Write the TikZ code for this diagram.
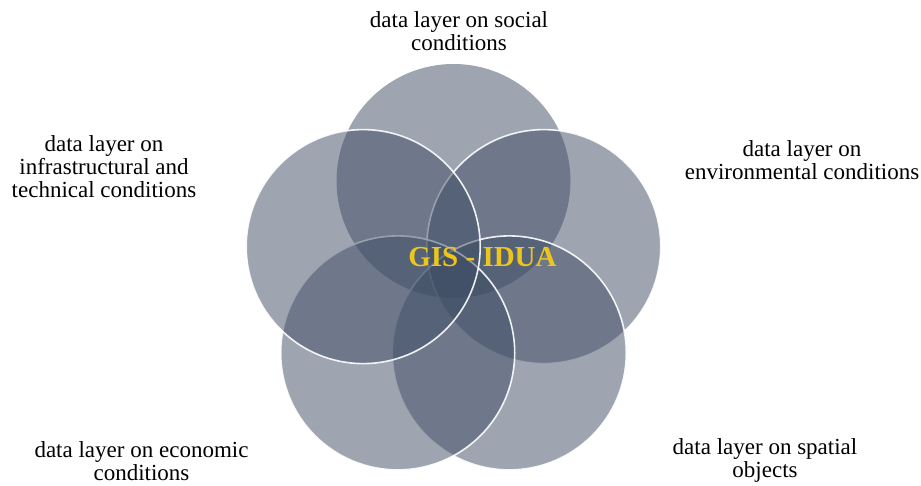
\documentclass[tikz,border=0pt]{standalone}
\usepackage{fontspec}
\setmainfont{Liberation Serif}
\definecolor{venngray}{RGB}{62,76,100}
\definecolor{gisgold}{RGB}{236,198,28}

\begin{document}
\begin{tikzpicture}[x=1pt, y=-1pt]
        % basic settings
        \def\R{117} % radius of the layer circles
        \useasboundingbox (0,0) rectangle (921,485);

        \tikzstyle{layer} = [circle, draw=white, line width=1.6pt, draw opacity=0.9, fill=venngray, fill opacity=0.5, minimum size=2*\R pt, inner sep=0pt]
        \tikzstyle{caption} = [align=center, font=\fontsize{23}{23}\selectfont, inner sep=0pt]

        % 1. the five layers (clockwise from the top)
        \node[layer, draw=none] (social) at (453.5, 181) {};
        \node[layer] (environ) at (543.8, 246.6) {};
        \node[layer] (spatial) at (509.3, 352.9) {};
        \node[layer] (economic) at (397.7, 352.9) {};
        \node[layer] (infra) at (363.2, 246.6) {};

        % 2. title in the middle
        \node[anchor=base, text=gisgold, font=\fontsize{29}{29}\selectfont\bfseries] (gis) at (482.5, 266.7) {GIS - IDUA};

        % 3. captions of the layers
        \node[caption] (l_social) at (459, 31.5) {data layer on social\\conditions};
        \node[caption] (l_environ) at (802, 160.5) {data layer on\\environmental conditions};
        \node[caption] (l_spatial) at (765, 460.5) {data layer on spatial\\objects};
        \node[caption] (l_economic) at (141.5, 461) {data layer on economic\\conditions};
        \node[caption] (l_infra) at (104, 167) {data layer on\\infrastructural and\\technical conditions};

    \end{tikzpicture}
\end{document}
